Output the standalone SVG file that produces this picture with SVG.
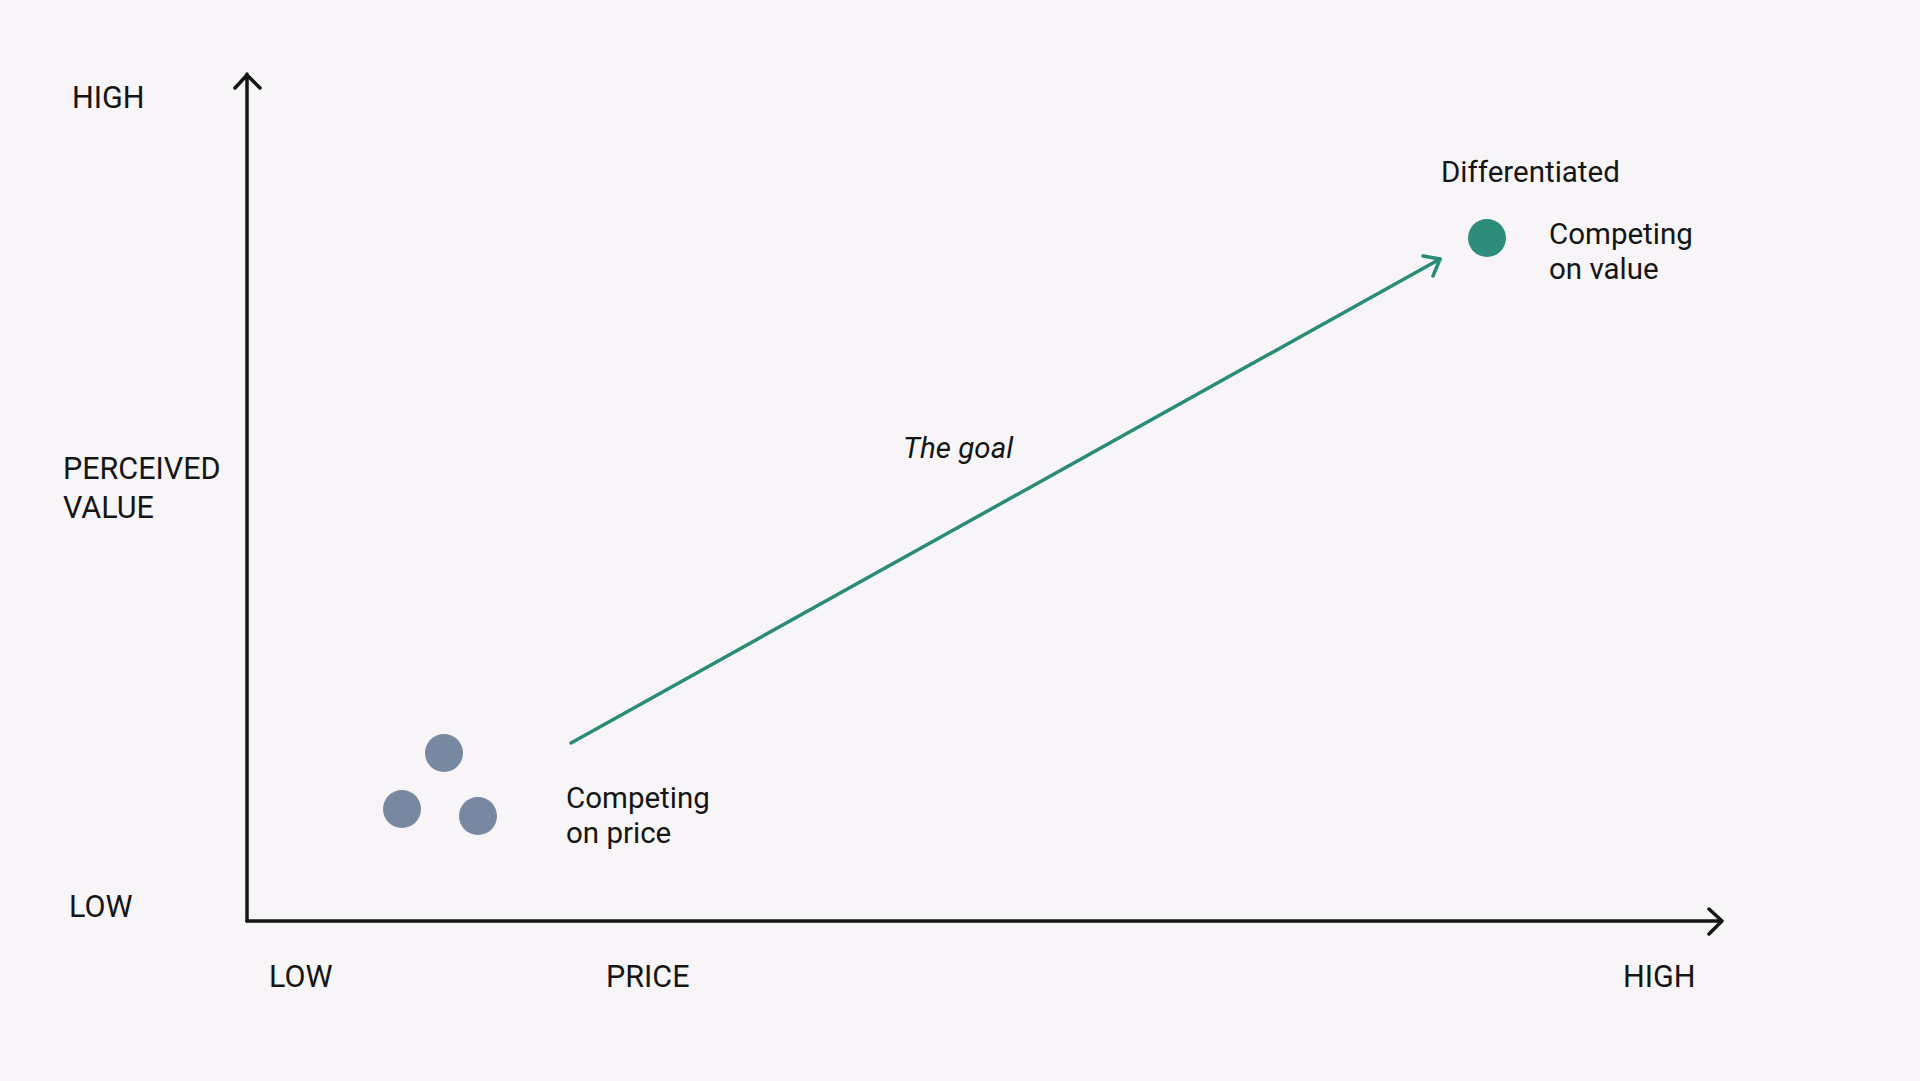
<svg xmlns="http://www.w3.org/2000/svg" width="1920" height="1081" viewBox="0 0 1920 1081">
<defs>
<style>
.t{font-family:Roboto,"Liberation Sans",sans-serif;font-size:30.5px;fill:#151515}
.s{font-family:Roboto,"Liberation Sans",sans-serif;font-size:29.5px;fill:#151515}
.axis{stroke:#151515;stroke-width:3.5;fill:none;stroke-linecap:round;stroke-linejoin:round}
.goal{stroke:#2a8c78;stroke-width:3.5;fill:none;stroke-linecap:round;stroke-linejoin:round}
.grey{fill:#7788a0}
</style>
</defs>
<rect width="1920" height="1081" fill="#f7f5f7"/>
<g id="axes">
<path class="axis" d="M247 921 V74 M235 88 L247 75 L260 88"/>
<path class="axis" d="M247 921 H1722 M1709 909 L1722 921 L1709 934"/>
</g>
<g id="axis-labels">
<text class="t" x="72" y="108">HIGH</text>
<text class="t" x="63" y="479">PERCEIVED</text>
<text class="t" x="63" y="518">VALUE</text>
<text class="t" x="69" y="917">LOW</text>
<text class="t" x="269" y="987">LOW</text>
<text class="t" x="606" y="987">PRICE</text>
<text class="t" x="1623" y="987">HIGH</text>
</g>
<g id="connectors">
<path class="goal" d="M571 743 L1440 259"/>
<path class="goal" d="M1423 256 L1440 259 L1433 276"/>
<text class="s" x="903" y="458" font-style="italic">The goal</text>
</g>
<g id="price-cluster">
<circle class="grey" cx="444" cy="753" r="19"/>
<circle class="grey" cx="402" cy="809" r="19"/>
<circle class="grey" cx="478" cy="816" r="19"/>
<text class="s" x="566" y="808">Competing</text>
<text class="s" x="566" y="843">on price</text>
</g>
<g id="value-node">
<circle cx="1487" cy="238" r="19" fill="#2e8c7b"/>
<text class="s" x="1441" y="182">Differentiated</text>
<text class="s" x="1549" y="244">Competing</text>
<text class="s" x="1549" y="279">on value</text>
</g>
</svg>
